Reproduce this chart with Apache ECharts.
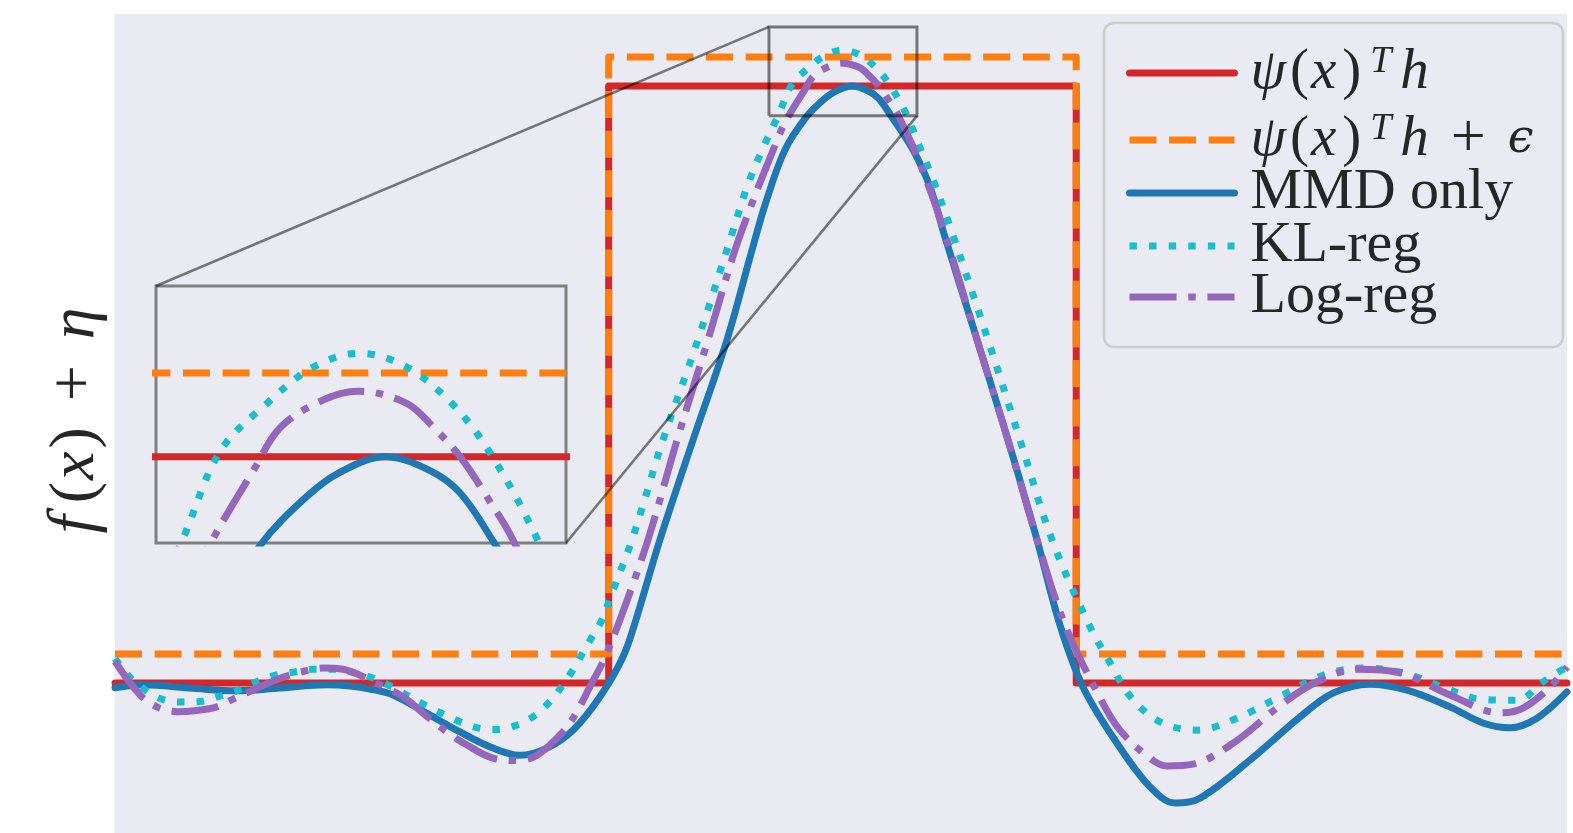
<!DOCTYPE html>
<html><head><meta charset="utf-8">
<script src="https://cdn.jsdelivr.net/npm/echarts@6/dist/echarts.min.js"></script>
<style>html,body{margin:0;padding:0;background:#fff}#c{width:1573px;height:833px}</style>
</head><body><div id="c"></div>
<script>
// ---- data (x in arbitrary units 0..100, y so that step height = 1) ----
const stepEdges = [34.0, 66.2];
const stepLow = 0, stepHigh = 1;
const epsilon = 0.0486;
const xRange = [0, 100];
const yRange = [-0.2513, 1.1206];
const zoomX = [45.04, 55.23];
const zoomY = [0.950, 1.099];

const mmdX = [0,1.93,5.37,8.40,11.16,14.60,16.18,17.56,19.15,21.49,23.76,26.03,27.89,29.75,31.54,33.40,34.99,35.88,37.53,39.81,42.15,43.87,44.77,46.14,47.64,48.79,49.61,50.74,51.85,52.60,53.42,54.96,56.13,57.16,59.37,61.50,63.50,65.08,66.67,69.01,71.28,73.00,74.72,78.17,81.61,83.88,86.43,88.98,91.94,94.21,96.07,97.93,100];
const mmdY = [-0.008,-0.003,-0.009,-0.013,-0.009,-0.003,-0.005,-0.010,-0.020,-0.051,-0.082,-0.109,-0.121,-0.109,-0.079,-0.023,0.044,0.106,0.240,0.407,0.575,0.725,0.801,0.893,0.949,0.977,0.991,1.000,0.992,0.979,0.951,0.893,0.831,0.747,0.575,0.407,0.240,0.097,-0.007,-0.101,-0.174,-0.201,-0.193,-0.129,-0.057,-0.017,-0.002,-0.012,-0.040,-0.067,-0.075,-0.059,-0.015];

const klX = [0,0.90,1.93,3.10,4.48,5.85,7.09,8.40,9.64,10.88,12.26,13.64,15.01,16.18,17.56,18.94,21.35,23.76,25.14,26.38,27.75,28.93,29.96,30.79,31.54,32.23,32.92,33.54,34.04,35.61,37.74,40.15,42.36,43.53,44.63,45.72,46.63,47.80,48.95,50.11,51.27,52.43,53.35,54.50,55.30,56.34,57.71,60.12,62.33,64.53,67.15,68.53,69.90,71.97,74.52,77.27,80.44,83.20,85.95,88.71,91.46,94.01,96.56,98.35,100];
const klY = [0.041,0.013,-0.009,-0.026,-0.032,-0.031,-0.023,-0.013,0.001,0.012,0.018,0.023,0.023,0.019,0.010,-0.005,-0.037,-0.065,-0.076,-0.078,-0.070,-0.054,-0.031,-0.005,0.022,0.051,0.080,0.106,0.139,0.240,0.407,0.575,0.742,0.831,0.896,0.953,1.003,1.031,1.052,1.060,1.052,1.030,1.002,0.953,0.905,0.843,0.750,0.575,0.407,0.240,0.094,0.034,-0.022,-0.065,-0.079,-0.059,-0.020,0.013,0.025,0.017,-0.007,-0.027,-0.029,0.002,0.027];

const logX = [0,1.72,2.89,4.27,5.65,7.02,8.13,9.50,11.16,12.74,14.33,15.70,16.87,18.25,19.83,21.49,22.87,24.24,26.03,27.69,29.06,30.85,31.82,32.71,33.61,34.78,36.71,38.71,40.84,42.91,45.80,46.47,47.46,48.13,49.20,50.07,51.27,51.94,52.60,53.26,53.93,54.96,56.13,57.30,59.37,61.50,63.50,65.43,67.84,69.21,71.28,72.45,74.24,77.00,80.44,82.78,85.54,88.50,91.94,95.39,96.97,98.83,100];
const logY = [0.036,-0.020,-0.040,-0.048,-0.046,-0.040,-0.027,-0.012,0.006,0.018,0.025,0.023,0.013,-0.003,-0.023,-0.056,-0.082,-0.104,-0.126,-0.130,-0.121,-0.082,-0.048,-0.006,0.036,0.106,0.240,0.407,0.575,0.740,0.921,0.953,0.992,1.017,1.033,1.038,1.031,1.017,1.000,0.977,0.951,0.898,0.826,0.742,0.575,0.407,0.240,0.097,-0.025,-0.079,-0.126,-0.139,-0.136,-0.101,-0.034,0.002,0.023,0.017,-0.020,-0.050,-0.042,-0.007,0.027];

const seriesNames = ['ψ(x)^T h', 'ψ(x)^T h + ϵ', 'MMD only', 'KL-reg', 'Log-reg'];
const seriesColors = ['#d62728', '#ff7f0e', '#1f77b4', '#17becf', '#9467bd'];
const legendRowCenters = [73, 139, 194, 247, 298];

// ---- build ----
const pairs = (xs, ys) => xs.map((x, i) => [x, ys[i]]);
const stepX = [xRange[0], stepEdges[0], stepEdges[0], stepEdges[1], stepEdges[1], xRange[1]];
const stepY = [stepLow, stepLow, stepHigh, stepHigh, stepLow, stepLow];
const stepEpsY = stepY.map(v => v + epsilon);

const LW = 7.0;
const lineDefs = [
  {data: pairs(stepX, stepY), type: 'solid', cap: 'round', smooth: false},
  {data: pairs(stepX, stepEpsY), type: [27, 12.6], cap: 'butt', smooth: false},
  {data: pairs(mmdX, mmdY), type: 'solid', cap: 'round', smooth: 0.35},
  {data: pairs(klX, klY), type: [7.4, 12.2], cap: 'butt', smooth: 0.35},
  {data: pairs(logX, logY), type: [47, 11.8, 7.4, 11.8], cap: 'butt', smooth: 0.35}
];

const series = [];
[0, 1].forEach(g => {
  lineDefs.forEach((d, i) => {
    series.push({
      type: 'line', name: seriesNames[i], data: d.data,
      xAxisIndex: g, yAxisIndex: g, symbol: 'none', smooth: d.smooth,
      clip: true, silent: true, animation: false, z: 2,
      lineStyle: {color: seriesColors[i], width: LW, type: d.type, cap: d.cap, join: 'round'},
      itemStyle: {color: seriesColors[i]}
    });
  });
});
// zoom rectangle on main axes
series.push({
  type: 'line', xAxisIndex: 0, yAxisIndex: 0, symbol: 'none', silent: true, animation: false, z: 6,
  data: [[zoomX[0], zoomY[0]], [zoomX[1], zoomY[0]], [zoomX[1], zoomY[1]], [zoomX[0], zoomY[1]], [zoomX[0], zoomY[0]]],
  lineStyle: {color: 'rgba(0,0,0,0.5)', width: 3, join: 'miter'}
});

const FF = 'Liberation Serif';
const C = '#262626';
const rich = {
  psi: {fontFamily: FF, fontSize: 57, lineHeight: 60, color: C, fontStyle: 'italic', padding: [0, 0, 0, 11]},
  lp: {fontFamily: FF, fontSize: 57, lineHeight: 60, color: C, padding: [0, 0, 0, 4]},
  xi: {fontFamily: FF, fontSize: 57, lineHeight: 60, color: C, fontStyle: 'italic', padding: [0, 3, 0, 2]},
  rp: {fontFamily: FF, fontSize: 57, lineHeight: 60, color: C, padding: [0, 0, 0, 3]},
  sup: {fontFamily: FF, fontSize: 38, lineHeight: 12, color: C, fontStyle: 'italic', verticalAlign: 'top', padding: [0, 9, 48, 9]},
  h: {fontFamily: FF, fontSize: 57, lineHeight: 60, color: C, fontStyle: 'italic'},
  plus: {fontFamily: FF, fontSize: 62, lineHeight: 60, color: C, padding: [0, 0, 0, 22]},
  eps: {fontFamily: 'DejaVu Serif', fontSize: 46, lineHeight: 60, color: C, fontStyle: 'italic', padding: [0, 0, 0, 22]},
  txt: {fontFamily: FF, fontSize: 58, lineHeight: 60, color: C, padding: [0, 0, 0, 11]}
};
const legendText = [
  '{psi|ψ}{lp|(}{xi|x}{rp|)}{sup|T}{h|h}',
  '{psi|ψ}{lp|(}{xi|x}{rp|)}{sup|T}{h|h}{plus|+}{eps|ϵ}',
  '{txt|MMD only}',
  '{txt|KL-reg}',
  '{txt|Log-reg}'
];

const legends = seriesNames.map((n, i) => ({
  data: [n], orient: 'vertical', left: 1126, top: legendRowCenters[i] - 30,
  itemWidth: 105, itemHeight: 14, padding: 0, selectedMode: false, z: 5,
  lineStyle: {width: LW},
  itemStyle: {opacity: 0, borderWidth: 0},
  formatter: () => legendText[i],
  textStyle: {rich: rich, fontFamily: FF, fontSize: 57, color: C}
}));

const hidden = {show: false};
const option = {
  backgroundColor: '#ffffff',
  animation: false,
  grid: [
    {left: 115, top: 14, right: 6, bottom: 0, show: true, backgroundColor: '#eaeaf2', borderWidth: 0, containLabel: false, outerBoundsMode: 'none'},
    {left: 156, top: 286, width: 410, height: 257, show: true, backgroundColor: '#eaeaf2', borderColor: '#808080', borderWidth: 3, containLabel: false, outerBoundsMode: 'none'}
  ],
  xAxis: [
    {type: 'value', gridIndex: 0, min: xRange[0], max: xRange[1], axisLine: hidden, axisTick: hidden, axisLabel: hidden, splitLine: hidden},
    {type: 'value', gridIndex: 1, min: zoomX[0], max: zoomX[1], axisLine: hidden, axisTick: hidden, axisLabel: hidden, splitLine: hidden}
  ],
  yAxis: [
    {type: 'value', gridIndex: 0, min: yRange[0], max: yRange[1], axisLine: hidden, axisTick: hidden, axisLabel: hidden, splitLine: hidden,
     name: '{f|f}{p1|(}{x|x}{p2|)}{pl|+}{eta|η}', nameLocation: 'middle', nameRotate: 90, nameGap: 6,
     nameTextStyle: {fontFamily: FF, fontSize: 62, color: C, lineHeight: 66, rich: {
       f: {fontFamily: FF, fontSize: 66, lineHeight: 66, color: C, fontStyle: 'italic', padding: [0, 12, 0, 6]},
       p1: {fontFamily: FF, fontSize: 64, lineHeight: 66, color: C, padding: [0, 1, 0, 0]},
       x: {fontFamily: FF, fontSize: 64, lineHeight: 66, color: C, fontStyle: 'italic', padding: [0, 3, 0, 1]},
       p2: {fontFamily: FF, fontSize: 64, lineHeight: 66, color: C},
       pl: {fontFamily: FF, fontSize: 64, lineHeight: 66, color: C, padding: [0, 26, 0, 26]},
       eta: {fontFamily: FF, fontSize: 64, lineHeight: 66, color: C, fontStyle: 'italic'}
     }}},
    {type: 'value', gridIndex: 1, min: zoomY[0], max: zoomY[1], axisLine: hidden, axisTick: hidden, axisLabel: hidden, splitLine: hidden}
  ],
  legend: legends,
  series: series
};

const chart = echarts.init(document.getElementById('c'), null, {renderer: 'canvas'});
chart.setOption(option);

const a = chart.convertToPixel({gridIndex: 0}, [zoomX[0], zoomY[1]]);
const b = chart.convertToPixel({gridIndex: 1}, [zoomX[0], zoomY[1]]);
const c = chart.convertToPixel({gridIndex: 0}, [zoomX[1], zoomY[0]]);
const d = chart.convertToPixel({gridIndex: 1}, [zoomX[1], zoomY[0]]);
chart.setOption({
  graphic: [
    {id: 'legendBox', type: 'rect', z: 3, silent: true,
     shape: {x: 1104, y: 23, width: 459, height: 324, r: 10},
     style: {fill: '#eaeaf2', stroke: '#cccccc', lineWidth: 2.5}},
    {id: 'conn1', type: 'line', z: 10, silent: true,
     shape: {x1: a[0], y1: a[1], x2: b[0], y2: b[1]},
     style: {stroke: 'rgba(0,0,0,0.5)', lineWidth: 2.6}},
    {id: 'conn2', type: 'line', z: 10, silent: true,
     shape: {x1: c[0], y1: c[1], x2: d[0], y2: d[1]},
     style: {stroke: 'rgba(0,0,0,0.5)', lineWidth: 2.6}}
  ]
});
</script></body></html>
